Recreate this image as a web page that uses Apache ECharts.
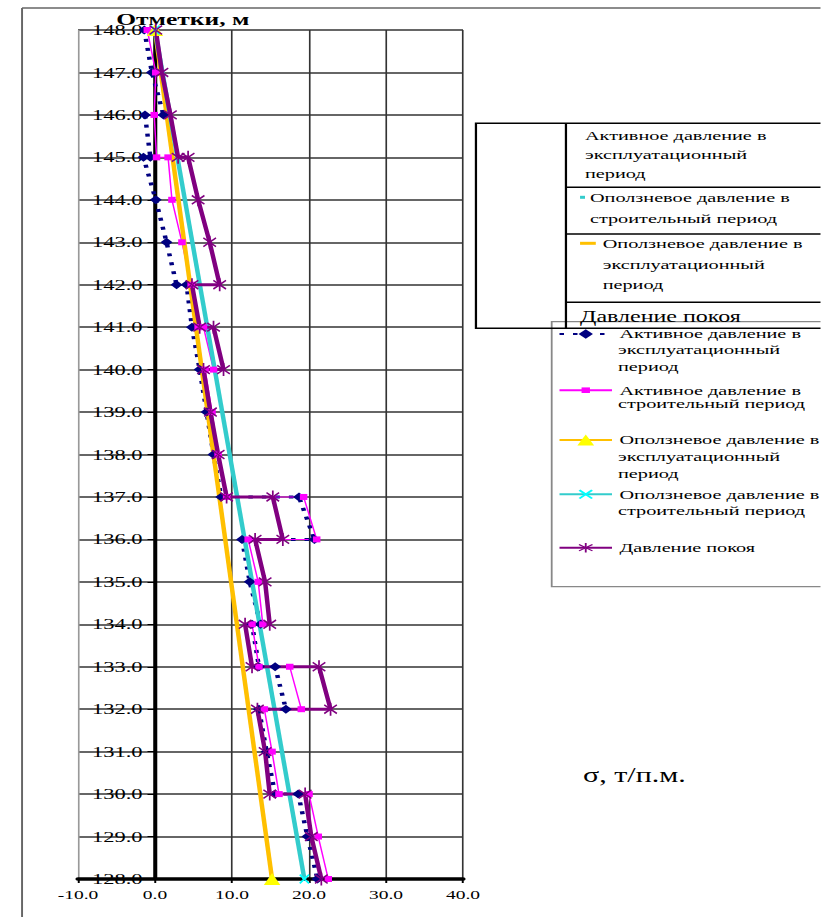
<!DOCTYPE html>
<html>
<head>
<meta charset="utf-8">
<title>Эпюры давления</title>
<script src="https://cdn.jsdelivr.net/npm/echarts@6.0.0/dist/echarts.min.js"></script>
<style>
  html, body { margin: 0; padding: 0; background: #fff; overflow: hidden; }
  /* the source picture is stretched sideways, so the chart is drawn narrow and stretched */
  #chart { width: 547px; height: 917px; transform: scaleX(1.5); transform-origin: 0 0; }
</style>
</head>
<body>
<div id="chart"></div>
<script>
// axes
const xMin = -10, xMax = 40, xStep = 10;
const yMin = 128, yMax = 148, yStep = 1;

// [sigma, elevation] pairs
const activeExp = [
  [-1.4, 148], [-0.4, 147], [1.1, 146], [-1.3, 146], [-0.6, 145], [-1.5, 145],
  [0.1, 144], [1.5, 143], [2.8, 142], [4.1, 142], [4.8, 141], [5.8, 140],
  [6.7, 139], [7.6, 138], [8.6, 137], [18.7, 137], [20.7, 136], [11.3, 136],
  [12.3, 135], [13.7, 134], [12.6, 134], [13.5, 133], [15.6, 133], [17.0, 132],
  [13.5, 132], [14.5, 131], [15.6, 130], [18.6, 130], [19.8, 129], [21.1, 128]
];
const activeBuild = [
  [-1.0, 148], [0.1, 147], [-0.1, 146], [0.2, 145], [1.7, 145], [2.2, 144],
  [3.5, 143], [4.7, 142], [5.6, 141], [6.3, 141], [7.6, 140], [6.5, 140],
  [7.4, 139], [8.2, 138], [9.3, 137], [19.3, 137], [21.0, 136], [12.1, 136],
  [13.4, 135], [14.0, 134], [12.6, 134], [13.5, 133], [17.5, 133], [19.0, 132],
  [14.2, 132], [15.2, 131], [16.1, 130], [20.0, 130], [21.2, 129], [22.5, 128]
];
const slideExp = [[0, 148], [15.2, 128]];
const slideBuild = [[0, 148], [19.4, 128]];
const restPress = [
  [0.1, 148], [0.9, 147], [2.0, 146], [3.0, 145], [4.3, 145], [5.6, 144],
  [7.1, 143], [8.4, 142], [4.8, 142], [5.8, 141], [7.6, 141], [8.9, 140],
  [6.3, 140], [7.2, 139], [8.2, 138], [9.3, 137], [15.3, 137], [16.6, 136],
  [13.0, 136], [14.3, 135], [14.9, 134], [11.7, 134], [12.6, 133], [21.3, 133],
  [22.8, 132], [13.3, 132], [14.3, 131], [14.9, 130], [19.5, 130], [20.3, 129],
  [21.6, 128]
];

const seriesNames = [
  'Активное давление в эксплуатационный период',
  'Активное давление в строительный период',
  'Оползневое давление в эксплуатационный период',
  'Оползневое давление в строительный период',
  'Давление покоя'
];
const legendLines = [
  ['Активное давление в', 'эксплуатационный', 'период'],
  ['Активное давление в', 'строительный период'],
  ['Оползневое давление в', 'эксплуатационный', 'период'],
  ['Оползневое давление в', 'строительный период'],
  ['Давление покоя']
];
const legendIconY = [333, 386.7, 440, 493.3, 546.7];
const legendIconH = [12, 7, 14, 12, 12];

const serif = '"Liberation Serif", "Times New Roman", serif';
const starPath = 'path://M4.4,0H5.6V10H4.4Z M0.3,2.2L0.9,1.2L9.7,7.8L9.1,8.8Z M9.7,2.2L9.1,1.2L0.3,7.8L0.9,8.8Z';
const crossPath = 'path://M0,1.2L1.2,0L10,8.8L8.8,10Z M8.8,0L10,1.2L1.2,10L0,8.8Z';

let myChart = echarts.init(document.getElementById('chart'), null, { renderer: 'svg' });

function txt(x, y, text, size, extra) {
  return Object.assign({
    type: 'text', x: x, y: y, z: 100,
    style: { text: text, fill: '#000', fontFamily: serif, fontSize: size || 13.5, verticalAlign: 'middle' }
  }, extra || {});
}
function hline(x1, x2, y, color, w, z) {
  return { type: 'line', z: z, shape: { x1: x1, y1: y, x2: x2, y2: y }, style: { stroke: color, lineWidth: w } };
}
function vline(x, y1, y2, color, w, z) {
  return { type: 'line', z: z, shape: { x1: x, y1: y1, x2: x, y2: y2 }, style: { stroke: color, lineWidth: w } };
}

// legend: one block per entry, extra lines as plain text
let legends = seriesNames.map(function (name, i) {
  return {
    data: [name], left: 372, top: legendIconY[i] - legendIconH[i] / 2, padding: 0,
    itemWidth: 35, itemHeight: legendIconH[i], selectedMode: false,
    formatter: function () { return legendLines[i][0]; },
    textStyle: { fontFamily: serif, fontSize: 13.5, color: '#000' }
  };
});

let graphics = [
  // outer frame of the picture
  hline(14.7, 560, 8, '#666', 1.3, 1),
  vline(14.7, 8, 917, '#666', 1.3, 1),
  // frame of the lower legend
  { type: 'rect', z: 3, shape: { x: 367.8, y: 321.7, width: 200, height: 265 },
    style: { fill: 'none', stroke: '#888', lineWidth: 1.2 } },
  // upper box (table-like legend)
  { type: 'rect', z: 100, shape: { x: 317.3, y: 123.3, width: 250, height: 205 },
    style: { fill: 'none', stroke: '#000', lineWidth: 1.5 } },
  vline(377.3, 123.3, 328.3, '#000', 1.5, 100),
  hline(377.3, 560, 187.3, '#000', 1.5, 100),
  hline(377.3, 560, 234, '#000', 1.5, 100),
  hline(377.3, 560, 302.3, '#000', 1.5, 100),
  txt(390, 136, 'Активное давление в'),
  txt(390, 155, 'эксплуатационный'),
  txt(390, 173.3, 'период'),
  { type: 'rect', z: 100, shape: { x: 386.7, y: 195.8, width: 3.3, height: 3 }, style: { fill: '#33CCCC' } },
  txt(393.3, 197.3, 'Оползневое давление в'),
  txt(393.3, 218.3, 'строительный период'),
  { type: 'rect', z: 100, shape: { x: 386.7, y: 241.8, width: 10.5, height: 3 }, style: { fill: '#FFC000' } },
  txt(401.8, 243.3, 'Оползневое давление в'),
  txt(401.8, 265, 'эксплуатационный'),
  txt(401.8, 285, 'период'),
  txt(386.7, 316.7, 'Давление покоя', 16),
  // x axis name
  txt(388.7, 775, 'σ, т/п.м.', 20)
];
legendLines.forEach(function (lines, i) {
  for (let j = 1; j < lines.length; j++) {
    graphics.push(txt(412, legendIconY[i] + 17 * j, lines[j], 13.5, { z: 5 }));
  }
});

let option = {
  animation: false,
  backgroundColor: '#fff',
  grid: { left: 52, top: 30, width: 256.67, height: 849, containLabel: false },
  legend: legends,
  graphic: graphics,
  xAxis: {
    type: 'value', min: xMin, max: xMax, interval: xStep, position: 'bottom',
    axisLine: { onZero: false, lineStyle: { color: '#000', width: 3.5 } },
    axisTick: { show: true, length: 4, lineStyle: { color: '#000', width: 1.3 } },
    axisLabel: { margin: 9, color: '#000', fontFamily: serif, fontSize: 13,
      formatter: function (v) { return v.toFixed(1); } },
    splitLine: { show: true, lineStyle: { color: ['#999', '#333', '#333', '#333', '#333', '#333'], width: 1.1 } }
  },
  yAxis: {
    type: 'value', min: yMin, max: yMax, interval: yStep,
    name: 'Отметки, м', nameLocation: 'end', nameGap: 2, nameMoveOverlap: false,
    nameTextStyle: { color: '#000', fontFamily: serif, fontSize: 17, fontWeight: 'bold',
      align: 'center', padding: [0, 0, 0, 37] },
    axisLine: { onZero: true, lineStyle: { color: '#000', width: 2.7 } },
    axisTick: { show: true, length: 5, lineStyle: { color: '#000', width: 1 } },
    // labels sit just left of the zero line, inside the plot
    axisLabel: { margin: -43, color: '#000', fontFamily: serif, fontSize: 15,
      formatter: function (v) { return v.toFixed(1); } },
    splitLine: { show: true, lineStyle: { color: '#333', width: 1.5 } }
  },
  series: [
    {
      name: seriesNames[0], type: 'line', data: activeExp,
      symbol: 'diamond', symbolSize: [8, 9], showAllSymbol: true,
      itemStyle: { color: '#000080' },
      lineStyle: { color: '#000080', width: 3, type: [3, 6] }
    },
    {
      name: seriesNames[1], type: 'line', data: activeBuild,
      symbol: 'rect', symbolSize: [5, 6], showAllSymbol: true,
      itemStyle: { color: '#FF00FF' },
      lineStyle: { color: '#FF00FF', width: 1 }
    },
    {
      name: seriesNames[2], type: 'line', data: slideExp,
      symbol: 'triangle', symbolSize: [11, 12],
      itemStyle: { color: '#FFFF00' },
      lineStyle: { color: '#FFC000', width: 3 }
    },
    {
      name: seriesNames[3], type: 'line', data: slideBuild,
      symbol: crossPath, symbolSize: [7, 10],
      itemStyle: { color: '#00FFFF' },
      lineStyle: { color: '#33CCCC', width: 3 }
    },
    {
      name: seriesNames[4], type: 'line', data: restPress,
      symbol: starPath, symbolSize: [9, 13], showAllSymbol: true,
      itemStyle: { color: '#800080' },
      lineStyle: { color: '#800080', width: 3 }
    }
  ]
};

myChart.setOption(option);
</script>
</body>
</html>
